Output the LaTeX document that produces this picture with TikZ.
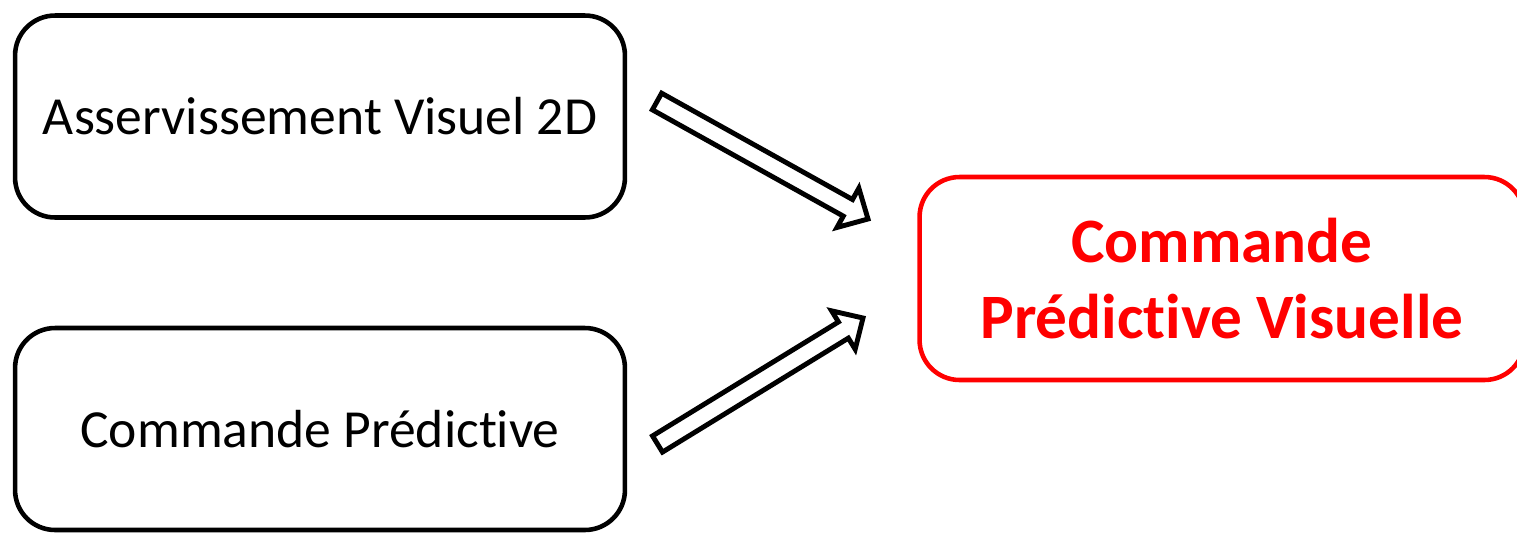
\documentclass[tikz,border=0pt]{standalone}
\usepackage{fontspec}
\setmainfont{Carlito}[Ligatures=NoCommon]
\usetikzlibrary{calc}
\definecolor{accent}{RGB}{255,0,0}
\tikzset{
  topic/.style={draw=black, line width=2.6pt, rounded corners=0.8cm, fill=white,
    minimum width=12.2cm, minimum height=4.04cm, align=center,
    font=\fontsize{30.5}{36}\selectfont},
  goal/.style={draw=accent, line width=2.6pt, rounded corners=0.8cm, fill=white,
    minimum width=12.1cm, minimum height=4.06cm, align=center, text=accent,
    font=\fontsize{36}{43}\selectfont\bfseries},
  hollowarrow/.style={draw=black, line width=2.8pt, line join=miter, fill=white}
}
% hollow block arrow from tail #1 to tip #2
\newcommand{\blockarrow}[2]{%
  \coordinate (neck) at ($(#2)!0.46cm!(#1)$);
  \draw[hollowarrow]
    ($(#1)!0.19cm!90:(#2)$) -- ($(neck)!0.19cm!90:(#2)$) --
    ($(neck)!0.45cm!90:(#2)$) -- (#2) --
    ($(neck)!0.45cm!-90:(#2)$) -- ($(neck)!0.19cm!-90:(#2)$) --
    ($(#1)!0.19cm!-90:(#2)$) -- cycle;}
\begin{document}
\begin{tikzpicture}[x=0.02cm, y=-0.02cm]
  \useasboundingbox (0,0) rectangle (1517,532);

  \node[topic] (servo) at (320,116.5) {Asservissement Visuel 2D};
  \node[topic] (pred)  at (320,429) {Commande Prédictive};
  \node[goal]  (vpc)   at (1222,278.5) {Commande\\Prédictive Visuelle};

  \coordinate (a1tail) at (657,101.5);
  \coordinate (a1tip)  at (868,219);
  \coordinate (a2tail) at (657.5,444);
  \coordinate (a2tip)  at (863,318);

  \blockarrow{a1tail}{a1tip}
  \blockarrow{a2tail}{a2tip}
\end{tikzpicture}
\end{document}
